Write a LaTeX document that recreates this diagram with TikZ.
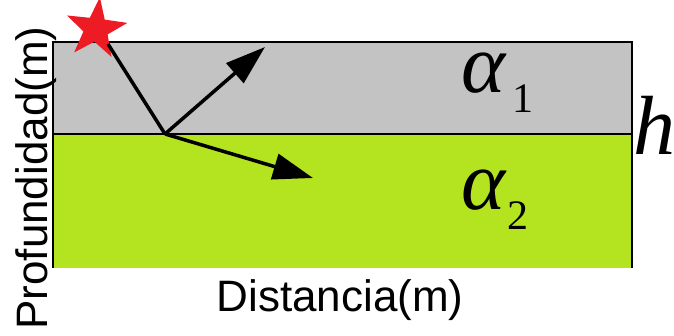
\documentclass[tikz,border=0pt]{standalone}
\usepackage{fontspec}
\setmainfont{Liberation Serif}
\setsansfont{Liberation Sans}
\usetikzlibrary{arrows.meta,shapes.geometric}
\definecolor{layergray}{RGB}{195,195,195}
\definecolor{layergreen}{RGB}{180,228,31}
\definecolor{starred}{RGB}{237,28,36}
\tikzset{
  ray/.style={line width=3.5pt},
  rayarrow/.style={ray,-{Triangle[length=40pt,width=26pt]}},
  biglabel/.style={inner sep=0pt,font=\fontsize{84}{84}\selectfont\itshape},
  sublabel/.style={inner sep=0pt,font=\fontsize{42}{42}\selectfont},
  axislabel/.style={inner sep=0pt,font=\sffamily\fontsize{44}{44}\selectfont},
}
\begin{document}
\begin{tikzpicture}[x=1pt,y=-1pt]
\useasboundingbox (0,0) rectangle (674,336);
% layers
\fill[layergray] (53,42) rectangle (632,134);
\fill[layergreen] (53,134) rectangle (632,268);
\draw[line width=1.5pt] (53,268) -- (53,42) -- (632,42) -- (632,268);
\draw[line width=1.5pt] (53,134) -- (632,134);
% star
\node[star,star points=5,star point ratio=2.5,minimum size=64pt,inner sep=0pt,
      fill=starred,rotate=-7] (src) at (96,29) {};
% rays
\coordinate (start) at (108,44);
\coordinate (hit) at (165,134);
\coordinate (refl) at (265,47);
\coordinate (refr) at (313,178);
\draw[ray] (start) -- (hit);
\draw[rayarrow] (hit) -- (refl);
\draw[rayarrow] (hit) -- (refr);
% labels
\node[biglabel,anchor=base west] (a1) at (461,93) {α};
\node[sublabel,anchor=base west] (s1) at (512,113) {1};
\node[biglabel,anchor=base west] (a2) at (461,210) {α};
\node[sublabel,anchor=base west] (s2) at (507,230) {2};
\node[biglabel,anchor=base west] (h) at (633,155) {h};
\node[axislabel,anchor=base] (xl) at (340,312) {Distancia(m)};
\node[axislabel,anchor=base,rotate=90] (yl) at (47,178) {Profundidad(m)};
\end{tikzpicture}
\end{document}
